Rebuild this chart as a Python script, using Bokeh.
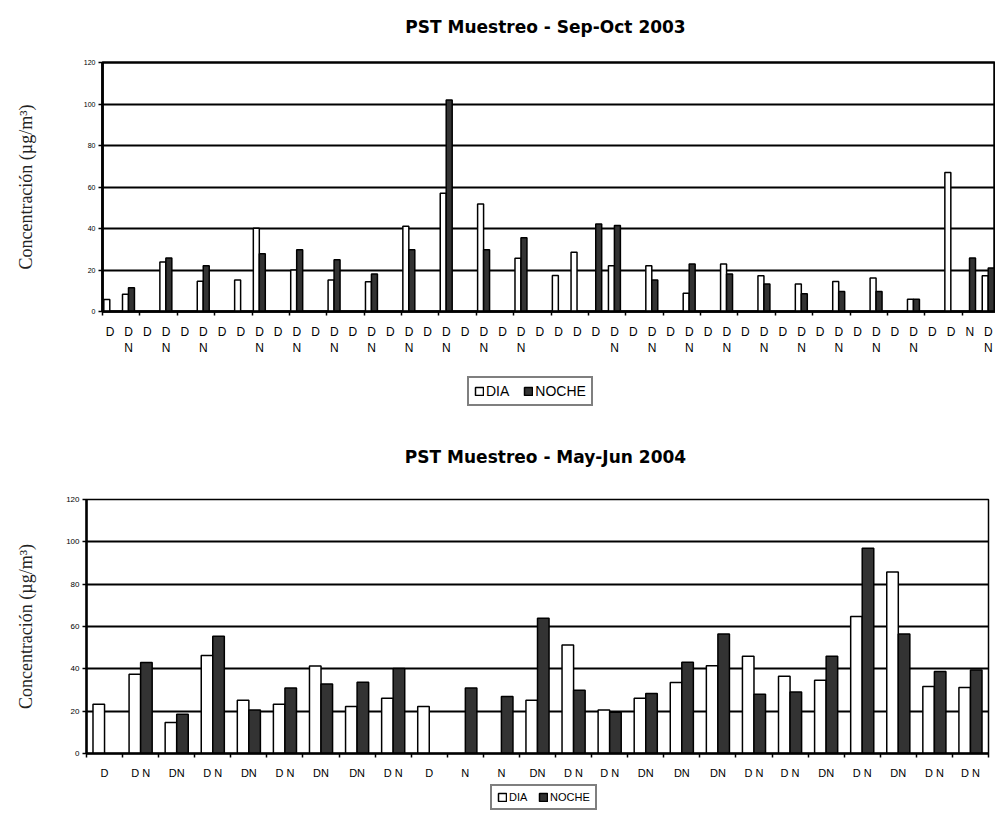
import numpy as np
from bokeh.plotting import figure
from bokeh.models import ColumnDataSource, FixedTicker, Range1d, Legend, LegendItem, Label
from bokeh.transform import dodge
from bokeh.layouts import column
from bokeh.embed import file_html
from bokeh.resources import INLINE

# ---------------- data: Sep-Oct 2003 ----------------
top_title = "PST Muestreo - Sep-Oct 2003"
top_labels = ["D", "D\nN", "D", "D\nN", "D", "D\nN", "D", "D", "D\nN", "D", "D\nN", "D", "D\nN", "D", "D\nN", "D",
              "D\nN", "D", "D\nN", "D", "D\nN", "D", "D\nN", "D", "D", "D", "D", "D\nN", "D", "D\nN", "D", "D\nN",
              "D", "D\nN", "D", "D\nN", "D", "D\nN", "D", "D\nN", "D", "D\nN", "D", "D\nN", "D", "D", "N", "D\nN"]
top_dia = [5.8, 8.3, None, 23.9, None, 14.6, None, 15.2, 40.1, None, 20.0, None, 15.2, None, 14.3, None,
           41.1, None, 57.0, None, 51.8, None, 25.7, None, 17.3, 28.6, None, 22.1, None, 22.1, None, 8.8,
           None, 22.9, None, 17.2, None, 13.3, None, 14.4, None, 16.2, None, 5.9, None, 67.0, None, 17.2]
top_noche = [None, 11.4, None, 25.8, None, 22.0, None, None, 27.8, None, 29.7, None, 24.9, None, 18.1, None,
             29.7, None, 101.9, None, 29.7, None, 35.6, None, None, None, 42.2, 41.4, None, 15.2, None, 22.9,
             None, 18.1, None, 13.3, None, 8.5, None, 9.6, None, 9.6, None, 5.9, None, None, 25.8, 21.0]

# ---------------- data: May-Jun 2004 ----------------
bot_title = "PST Muestreo - May-Jun 2004"
bot_labels = ["D", "D N", "DN", "D N", "DN", "D N", "DN", "DN", "D N", "D", "N", "N", "DN",
              "D N", "D N", "DN", "DN", "DN", "D N", "D N", "DN", "D N", "DN", "D N", "D N"]
bot_dia = [23.3, 37.5, 14.6, 46.3, 25.2, 23.3, 41.3, 22.2, 26.1, 22.2, None, None, 25.2,
           51.3, 20.6, 26.1, 33.5, 41.4, 46.0, 36.5, 34.6, 64.7, 85.7, 31.7, 31.2]
bot_noche = [None, 43.0, 18.6, 55.4, 20.5, 31.0, 32.8, 33.7, 40.2, None, 31.0, 26.9, 63.9,
             29.9, 19.5, 28.3, 43.1, 56.4, 28.0, 29.0, 46.0, 97.0, 56.4, 38.7, 39.4]

y_ticks = [0, 20, 40, 60, 80, 100, 120]
series_names = ["DIA", "NOCHE"]
y_title = "Concentración (µg/m³)"

FONT = "Liberation Sans"
DARK = "#333333"
W = 995


def no_align(fig):
    if hasattr(fig, "frame_align"):
        fig.frame_align = False


def blank_strip(height):
    f = figure(width=W, height=height, output_backend="svg", toolbar_location=None,
               x_axis_type=None, y_axis_type=None, x_range=Range1d(0, 1), y_range=Range1d(0, 1),
               min_border=0)
    no_align(f)
    f.outline_line_color = None
    f.background_fill_color = "white"
    f.border_fill_color = "white"
    f.grid.grid_line_color = None
    return f


def title_strip(text, height, cx, cy_from_bottom):
    f = blank_strip(height)
    f.add_layout(Label(x=cx, y=cy_from_bottom, x_units="screen", y_units="screen", text=text,
                       text_align="center", text_baseline="middle", text_font="DejaVu Sans",
                       text_font_style="bold", text_font_size="17px", text_color="black"))
    return f


def make_source(labels, dia, noche):
    return ColumnDataSource(dict(x=np.arange(len(labels)) + 0.5,
                                 dia=np.array(dia, dtype=float),
                                 noche=np.array(noche, dtype=float)))


def chart(labels, src, *, height, x_end, border_left, border_right, border_top,
          label_shift, dia_off, noche_off, bar_w, tick_step,
          label_size, ytick_size, ylabel_standoff, grid_w, outline_w):
    n = len(labels)
    p = figure(width=W, height=height, output_backend="svg", toolbar_location=None,
               x_range=Range1d(0, x_end), y_range=Range1d(0, 120),
               min_border_left=border_left, min_border_right=border_right,
               min_border_top=border_top, min_border_bottom=5)
    no_align(p)
    p.background_fill_color = "white"
    p.border_fill_color = "white"
    p.outline_line_color = "black"
    p.outline_line_width = outline_w

    p.vbar(x=dodge("x", dia_off), top="dia", width=bar_w, source=src,
           fill_color="white", line_color="black", line_width=1.5)
    p.vbar(x=dodge("x", noche_off), top="noche", width=bar_w, source=src,
           fill_color=DARK, line_color="black", line_width=1.5)

    centers = np.arange(n) + 0.5
    lab_pos = [float(c + label_shift) for c in centers]
    xt = FixedTicker(ticks=lab_pos, minor_ticks=list(range(0, n + 1, tick_step)))
    p.xaxis.ticker = xt
    p.xaxis.major_label_overrides = {pos: lab for pos, lab in zip(lab_pos, labels)}
    p.xaxis.major_tick_line_color = None
    p.xaxis.minor_tick_line_color = "black"
    p.xaxis.minor_tick_line_width = 1.5
    p.xaxis.minor_tick_out = 4
    p.xaxis.minor_tick_in = 0
    p.xaxis.axis_line_width = 2.5
    p.xaxis.major_label_standoff = 7
    p.xaxis.major_label_text_font = FONT
    p.xaxis.major_label_text_font_size = label_size
    p.xaxis.major_label_text_color = "black"

    yt = FixedTicker(ticks=y_ticks, minor_ticks=[])
    p.yaxis.ticker = yt
    p.yaxis.axis_line_width = 2.5
    p.yaxis.major_tick_out = 4
    p.yaxis.major_tick_in = 0
    p.yaxis.major_tick_line_width = 1.5
    p.yaxis.major_label_standoff = 3
    p.yaxis.major_label_text_font = FONT
    p.yaxis.major_label_text_font_size = ytick_size
    p.yaxis.major_label_text_color = "black"
    p.yaxis.axis_label = y_title
    p.yaxis.axis_label_text_font = "Liberation Serif"
    p.yaxis.axis_label_text_font_style = "normal"
    p.yaxis.axis_label_text_font_size = "18px"
    p.yaxis.axis_label_text_color = "#222222"
    p.yaxis.axis_label_standoff = ylabel_standoff

    p.ygrid.ticker = yt
    p.ygrid.grid_line_color = "black"
    p.ygrid.grid_line_width = grid_w
    p.xgrid.grid_line_color = None
    return p


def legend_strip(height, loc, font_size, label_h, spacing):
    # placeholder row holds no drawable bar (NaN); only the legend swatches are shown
    proxy = ColumnDataSource(dict(x=[np.nan], top=[np.nan]))
    f = blank_strip(height)
    r_d = f.vbar(x="x", top="top", width=0.1, source=proxy,
                 fill_color="white", line_color="black", line_width=1.5)
    r_n = f.vbar(x="x", top="top", width=0.1, source=proxy,
                 fill_color=DARK, line_color="black", line_width=1.5)
    lg = Legend(items=[LegendItem(label=series_names[0], renderers=[r_d]),
                       LegendItem(label=series_names[1], renderers=[r_n])],
                orientation="horizontal", location=loc)
    lg.label_text_font = FONT
    lg.label_text_font_size = font_size
    lg.label_text_color = "black"
    lg.glyph_width = 10
    lg.glyph_height = 10
    lg.label_height = label_h
    lg.label_standoff = 2
    lg.spacing = spacing
    lg.padding = 5
    lg.margin = 0
    lg.border_line_color = "black"
    lg.border_line_width = 2
    lg.background_fill_color = "white"
    f.add_layout(lg)
    return f


src1 = make_source(top_labels, top_dia, top_noche)
src2 = make_source(bot_labels, bot_dia, bot_noche)

h1 = title_strip(top_title, 40, 545, 14)
p1 = chart(top_labels, src1,
           height=318, x_end=47.78, border_left=102, border_right=0, border_top=22,
           label_shift=-0.1, dia_off=-0.27, noche_off=0.05, bar_w=0.32, tick_step=2, label_size="12px",
           ytick_size="7px", ylabel_standoff=45, grid_w=2, outline_w=2.5)
l1 = legend_strip(60, (467, 12), "14px", 14, 14)

h2 = title_strip(bot_title, 60, 545, 22)
p2 = chart(bot_labels, src2,
           height=303, x_end=len(bot_labels), border_left=86, border_right=7, border_top=21,
           label_shift=0.0, dia_off=-0.16, noche_off=0.16, bar_w=0.32, tick_step=1, label_size="11px",
           ytick_size="8px", ylabel_standoff=27, grid_w=1.8, outline_w=1.5)
l2 = legend_strip(34, (490, 5), "11px", 11, 9)

layout = column(h1, p1, l1, h2, p2, l2, spacing=0)
open("out.html", "w").write(file_html(layout, INLINE))
